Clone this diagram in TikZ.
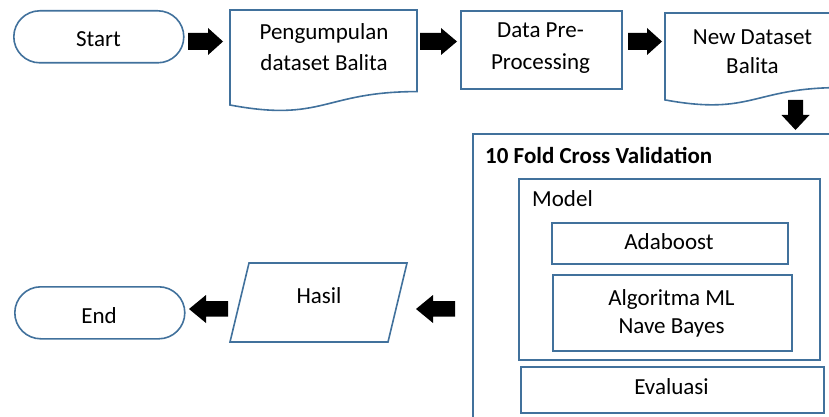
\documentclass[tikz,border=0pt]{standalone}
\usepackage{fontspec}
\setmainfont{Carlito}
\definecolor{ob}{HTML}{41719C}
\begin{document}
\begin{tikzpicture}[x=1pt,y=-1pt,
  box/.style={draw=ob,line width=1.6pt,fill=white,inner sep=0pt,anchor=north west},
  txt/.style={anchor=base,inner sep=0pt,font=\fontsize{23}{28}\selectfont},
  blk/.style={fill=black,draw=none}]
\useasboundingbox (0,0) rectangle (829,417);
\clip (0,0) rectangle (829,417);
% terminals
\node[box,rounded corners=26pt,minimum width=170pt,minimum height=52pt] (start) at (13,10) {};
\node[txt] (tstart) at (98.5,47) {Start};
\node[box,rounded corners=26pt,minimum width=170pt,minimum height=52pt] (end) at (14,286) {};
\node[txt] (tend) at (99,323) {End};
% document shapes
\draw[draw=ob,line width=1.6pt] (230,10) -- (417,10) -- (417,91.6)
  .. controls (323.5,91.6) and (323.5,122.6) .. (230,105) -- cycle;
\node[txt] (tp1) at (324,40) {Pengumpulan};
\node[txt] (tp2) at (324,71) {dataset Balita};
\draw[draw=ob,line width=1.6pt] (665,13) -- (840,13) -- (840,87.6)
  .. controls (752.5,87.6) and (752.5,116) .. (665,99.9) -- cycle;
\node[txt] (tn1) at (752.5,45) {New Dataset};
\node[txt] (tn2) at (752.5,74) {Balita};
% process
\node[box,minimum width=161pt,minimum height=78pt] (dp) at (460,10) {};
\node[txt] (td1) at (540.5,38) {Data Pre-};
\node[txt] (td2) at (540.5,70) {Processing};
% cross validation group
\node[box,minimum width=368pt,minimum height=297pt] (cv) at (472,133) {};
\node[txt,anchor=base west,font=\fontsize{23}{28}\selectfont\bfseries] (tcv) at (485,163) {10 Fold Cross Validation};
\node[box,minimum width=301pt,minimum height=181pt] (model) at (518,178) {};
\node[txt,anchor=base west] (tmodel) at (532,206) {Model};
\node[box,minimum width=236pt,minimum height=41pt] (ada) at (551,222) {};
\node[txt] (tada) at (669,249) {Adaboost};
\node[box,minimum width=239pt,minimum height=76pt] (alg) at (552,274) {};
\node[txt] (talg1) at (671.5,305) {Algoritma ML};
\node[txt] (talg2) at (671.5,333) {Nave Bayes};
\node[box,minimum width=303pt,minimum height=46pt] (eval) at (520,366) {};
\node[txt] (teval) at (671.5,394) {Evaluasi};
% output parallelogram
\draw[draw=ob,line width=1.6pt] (249,263) -- (407,263) -- (388,342) -- (230,342) -- cycle;
\node[txt] (thasil) at (319,303) {Hasil};
% block arrows
\fill[blk] (188,33) -- (208,33) -- (208,28) -- (223,41.5) -- (208,55) -- (208,50) -- (188,50) -- cycle;
\fill[blk] (420,33) -- (441,33) -- (441,28) -- (457,41.5) -- (441,55) -- (441,50) -- (420,50) -- cycle;
\fill[blk] (628,33) -- (647,33) -- (647,28) -- (662,41.5) -- (647,55) -- (647,50) -- (628,50) -- cycle;
\fill[blk] (788,100) -- (803,100) -- (803,115) -- (809.5,115) -- (795.5,130) -- (781.5,115) -- (788,115) -- cycle;
\fill[blk] (228,301) -- (206,301) -- (206,295) -- (189,309) -- (206,323) -- (206,316.5) -- (228,316.5) -- cycle;
\fill[blk] (455,301) -- (433,301) -- (433,295) -- (416,309) -- (433,323) -- (433,316.5) -- (455,316.5) -- cycle;
\end{tikzpicture}
\end{document}
